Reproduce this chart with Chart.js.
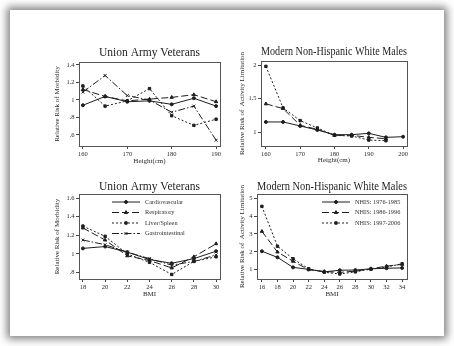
<!DOCTYPE html>
<html>
<head>
<meta charset="utf-8">
<script src="https://cdn.jsdelivr.net/npm/chart.js@4.4.1/dist/chart.umd.min.js"></script>
<style>
  html, body { margin: 0; padding: 0; background: #fff; }
  #page { position: relative; width: 454px; height: 346px; overflow: hidden; }
  #card {
    position: absolute; left: 10px; top: 10px; width: 434px; height: 326px;
    background: #fff; box-shadow: 0 0 8px 3px rgba(0, 0, 0, 0.5);
  }
  canvas { position: absolute; }
</style>
</head>
<body>
<div id="page">
  <div id="card"></div>
  <canvas id="uaHeight"></canvas>
  <canvas id="nhHeight"></canvas>
  <canvas id="uaBmi"></canvas>
  <canvas id="nhBmi"></canvas>
</div>
<script>
// Union Army veterans, relative risk of morbidity by height
const uaHeights = [160, 165, 170, 175, 180, 185, 190];
const uaHeightCardio = [0.94, 1.04, 0.98, 0.99, 0.95, 1.02, 0.93];
const uaHeightResp = [1.12, 1.04, 0.99, 1.01, 1.03, 1.06, 0.98];
const uaHeightLiver = [1.16, 0.93, 0.99, 1.13, 0.82, 0.71, 0.78];
const uaHeightGastro = [1.09, 1.28, 1.05, 1.00, 0.86, 0.93, 0.54];

// NHIS white males, relative risk of activity limitation by height
const nhHeights = [160, 165, 170, 175, 180, 185, 190, 195, 200];
const nh7685Height = [1.15, 1.15, 1.09, 1.03, 0.96, 0.96, 0.98, 0.92, 0.93];
const nh8696Height = [1.42, 1.35, 1.10, 1.04, 0.95, 0.95, 0.92, 0.90];
const nh9706Height = [1.98, 1.36, 1.17, 1.06, 0.95, 0.94, 0.88, 0.87];

// Union Army veterans by BMI
const uaBmis = [18, 20, 22, 24, 26, 28, 30];
const uaBmiCardio = [1.06, 1.08, 1.02, 0.94, 0.90, 0.95, 1.03];
const uaBmiResp = [1.28, 1.15, 0.98, 0.93, 0.85, 0.97, 1.11];
const uaBmiLiver = [1.30, 1.19, 1.00, 0.91, 0.78, 0.92, 0.97];
const uaBmiGastro = [1.15, 1.10, 1.02, 0.95, 0.88, 0.92, 0.99];

// NHIS white males by BMI
const nhBmis = [16, 18, 20, 22, 24, 26, 28, 30, 32, 34];
const nh7685Bmi = [2.03, 1.69, 1.13, 1.02, 0.88, 0.97, 0.98, 1.05, 1.08, 1.10];
const nh8696Bmi = [3.14, 1.99, 1.47, 1.00, 0.90, 0.85, 0.92, 1.05, 1.20, 1.30];
const nh9706Bmi = [4.54, 2.31, 1.61, 1.05, 0.86, 0.76, 0.88, 1.03, 1.15, 1.33];

const uaLabels = ['Cardiovascular', 'Respiratory', 'Liver/Spleen', 'Gastrointestinal'];
const nhLabels = ['NHIS: 1976-1985', 'NHIS: 1986-1996', 'NHIS: 1997-2006'];

const uaHeightTicksX = [160, 170, 180, 190];
const uaHeightTicksY = [0.6, 0.8, 1, 1.2, 1.4];
const nhHeightTicksX = [160, 170, 180, 190, 200];
const nhHeightTicksY = [1, 1.5, 2];
const uaBmiTicksX = [18, 20, 22, 24, 26, 28, 30];
const uaBmiTicksY = [0.8, 1, 1.2, 1.4, 1.6];
const nhBmiTicksX = [16, 18, 20, 22, 24, 26, 28, 30, 32, 34];
const nhBmiTicksY = [1, 2, 3, 4, 5];

const SERIF = '"Liberation Serif", "DejaVu Serif", serif';
const INK = '#1e1e1e';

// line / marker styles, one per series position
const styles = [
  { borderDash: [], pointStyle: 'circle', pointRadius: 1.5 },
  { borderDash: [7, 3], pointStyle: 'triangle', pointRadius: 1.9 },
  { borderDash: [2, 2], pointStyle: 'rect', pointRadius: 1.7 },
  { borderDash: [7, 2, 1.5, 2], pointStyle: 'crossRot', pointRadius: 2 }
];

function series(xs, ys, label, i) {
  const s = styles[i];
  return {
    label: label,
    data: ys.map((y, k) => ({ x: xs[k], y: y })),
    borderColor: INK,
    backgroundColor: INK,
    borderWidth: 1,
    borderDash: s.borderDash,
    pointStyle: s.pointStyle,
    pointRadius: s.pointRadius,
    pointBorderWidth: 1,
    pointBackgroundColor: INK,
    pointBorderColor: INK,
    tension: 0
  };
}

const stata = v => String(v).replace(/^0\./, '.');

const boxPlugin = {
  id: 'plotBox',
  afterDatasetsDraw(chart) {
    const a = chart.chartArea, ctx = chart.ctx;
    ctx.save();
    ctx.strokeStyle = '#555';
    ctx.lineWidth = 1;
    ctx.strokeRect(Math.round(a.left) + 0.5, Math.round(a.top) + 0.5,
      Math.round(a.right - a.left), Math.round(a.bottom - a.top));
    ctx.restore();
  }
};

// small key drawn inside the plot area
const keyPlugin = {
  id: 'insideKey',
  afterDraw(chart, args, o) {
    if (!o.show) return;
    const a = chart.chartArea, ctx = chart.ctx;
    ctx.save();
    chart.data.datasets.forEach((ds, i) => {
      const y = a.top + o.y0 + i * o.dy;
      const x0 = a.left + o.x0, x1 = a.left + o.x1;
      ctx.strokeStyle = INK;
      ctx.lineWidth = 1;
      ctx.setLineDash(ds.borderDash);
      ctx.beginPath();
      ctx.moveTo(x0, y);
      ctx.lineTo(x1, y);
      ctx.stroke();
      ctx.setLineDash([]);
      ctx.fillStyle = INK;
      Chart.helpers.drawPoint(ctx, {
        pointStyle: ds.pointStyle, radius: ds.pointRadius, rotation: 0, borderWidth: 1
      }, (x0 + x1) / 2, y);
      ctx.font = '6.3px ' + SERIF;
      ctx.textBaseline = 'middle';
      ctx.textAlign = 'left';
      ctx.fillStyle = '#333';
      ctx.fillText(ds.label, a.left + o.tx, y);
    });
    ctx.restore();
  }
};

function panel(id, g, cfg) {
  const cv = document.getElementById(id);
  const w = g.R - g.L + 2, h = g.B - g.T;
  cv.width = w; cv.height = h;
  cv.style.left = g.L + 'px'; cv.style.top = g.T + 'px';
  cv.style.width = w + 'px'; cv.style.height = h + 'px';
  const titlePadTop = g.titleY - g.T - 6.9;
  new Chart(cv, {
    type: 'line',
    data: { datasets: cfg.datasets },
    plugins: [boxPlugin, keyPlugin],
    options: {
      responsive: false,
      animation: false,
      devicePixelRatio: 1,
      layout: { padding: { left: 0, right: 2, top: 0, bottom: 0 } },
      plugins: {
        legend: { display: false },
        tooltip: { enabled: false },
        title: {
          display: true,
          text: cfg.title,
          fullSize: false,
          color: INK,
          font: { family: SERIF, size: 11.5, weight: 'normal', lineHeight: 1.2 },
          padding: { top: titlePadTop, bottom: g.boxT - g.T - 13.8 - titlePadTop }
        },
        insideKey: cfg.key || { show: false }
      },
      scales: {
        x: {
          type: 'linear',
          min: cfg.xMin, max: cfg.xMax,
          afterBuildTicks: s => { s.ticks = cfg.xTicks.map(v => ({ value: v })); },
          afterFit: s => { s.height = g.B - g.boxB; },
          border: { display: false },
          grid: { drawOnChartArea: false, drawTicks: true, tickLength: 3, color: '#444' },
          ticks: {
            autoSkip: false, maxRotation: 0, padding: 1, color: '#2a2a2a',
            font: { family: SERIF, size: 6.5 },
            callback: v => String(v)
          },
          title: {
            display: true, text: cfg.xTitle, color: '#2a2a2a',
            font: { family: SERIF, size: 7, lineHeight: 1.2 },
            padding: { top: 0, bottom: g.B - g.xTitleY - 4.2 }
          }
        },
        y: {
          type: 'linear',
          min: cfg.yMin, max: cfg.yMax,
          afterBuildTicks: s => { s.ticks = cfg.yTicks.map(v => ({ value: v })); },
          afterFit: s => { s.width = g.boxL - g.L; },
          border: { display: false },
          grid: { drawOnChartArea: false, drawTicks: true, tickLength: 3, color: '#444' },
          ticks: {
            autoSkip: false, padding: 1.5, color: '#2a2a2a',
            font: { family: SERIF, size: 6.5 },
            callback: v => stata(v)
          },
          title: {
            display: true, text: cfg.yTitle, color: '#2a2a2a',
            font: { family: SERIF, size: 7, lineHeight: 1.2 },
            padding: { top: g.yTitleX - g.L - 4.2, bottom: 0 }
          }
        }
      }
    }
  });
}

panel('uaHeight',
  { L: 48, T: 44, R: 223, B: 168, boxL: 79, boxT: 62, boxB: 146, titleY: 53, xTitleY: 161.5, yTitleX: 57 },
  {
    title: 'Union Army Veterans',
    xTitle: 'Height(cm)', yTitle: 'Relative Risk of Morbidity',
    xMin: 159.12, xMax: 190.88, yMin: 0.474, yMax: 1.434,
    xTicks: uaHeightTicksX, yTicks: uaHeightTicksY,
    datasets: [
      series(uaHeights, uaHeightCardio, uaLabels[0], 0),
      series(uaHeights, uaHeightResp, uaLabels[1], 1),
      series(uaHeights, uaHeightLiver, uaLabels[2], 2),
      series(uaHeights, uaHeightGastro, uaLabels[3], 3)
    ]
  });

panel('nhHeight',
  { L: 233, T: 43, R: 410, B: 168, boxL: 261, boxT: 61, boxB: 146, titleY: 52, xTitleY: 160.5, yTitleX: 242 },
  {
    title: 'Modern Non-Hispanic White Males',
    xTitle: 'Height(cm)', yTitle: 'Relative Risk of  Activity Limitation',
    xMin: 158.57, xMax: 201.14, yMin: 0.791, yMax: 2.06,
    xTicks: nhHeightTicksX, yTicks: nhHeightTicksY,
    datasets: [
      series(nhHeights, nh7685Height, nhLabels[0], 0),
      series(nhHeights, nh8696Height, nhLabels[1], 1),
      series(nhHeights, nh9706Height, nhLabels[2], 2)
    ]
  });

panel('uaBmi',
  { L: 48, T: 176, R: 223, B: 300, boxL: 79, boxT: 194, boxB: 279, titleY: 187, xTitleY: 293.7, yTitleX: 57 },
  {
    title: 'Union Army Veterans',
    xTitle: 'BMI', yTitle: 'Relative Risk of Morbidity',
    xMin: 17.647, xMax: 30.353, yMin: 0.731, yMax: 1.645,
    xTicks: uaBmiTicksX, yTicks: uaBmiTicksY,
    key: { show: true, x0: 33, x1: 61, tx: 66, y0: 8, dy: 10.5 },
    datasets: [
      series(uaBmis, uaBmiCardio, uaLabels[0], 0),
      series(uaBmis, uaBmiResp, uaLabels[1], 1),
      series(uaBmis, uaBmiLiver, uaLabels[2], 2),
      series(uaBmis, uaBmiGastro, uaLabels[3], 3)
    ]
  });

panel('nhBmi',
  { L: 233, T: 176, R: 410, B: 300, boxL: 257, boxT: 194, boxB: 279, titleY: 187, xTitleY: 293.7, yTitleX: 242 },
  {
    title: 'Modern Non-Hispanic White Males',
    xTitle: 'BMI', yTitle: 'Relative Risk of  Activity Limitation',
    xMin: 15.37, xMax: 34.63, yMin: 0.48, yMax: 5.23,
    xTicks: nhBmiTicksX, yTicks: nhBmiTicksY,
    key: { show: true, x0: 65, x1: 93, tx: 98, y0: 8, dy: 10.5 },
    datasets: [
      series(nhBmis, nh7685Bmi, nhLabels[0], 0),
      series(nhBmis, nh8696Bmi, nhLabels[1], 1),
      series(nhBmis, nh9706Bmi, nhLabels[2], 2)
    ]
  });
</script>
</body>
</html>
